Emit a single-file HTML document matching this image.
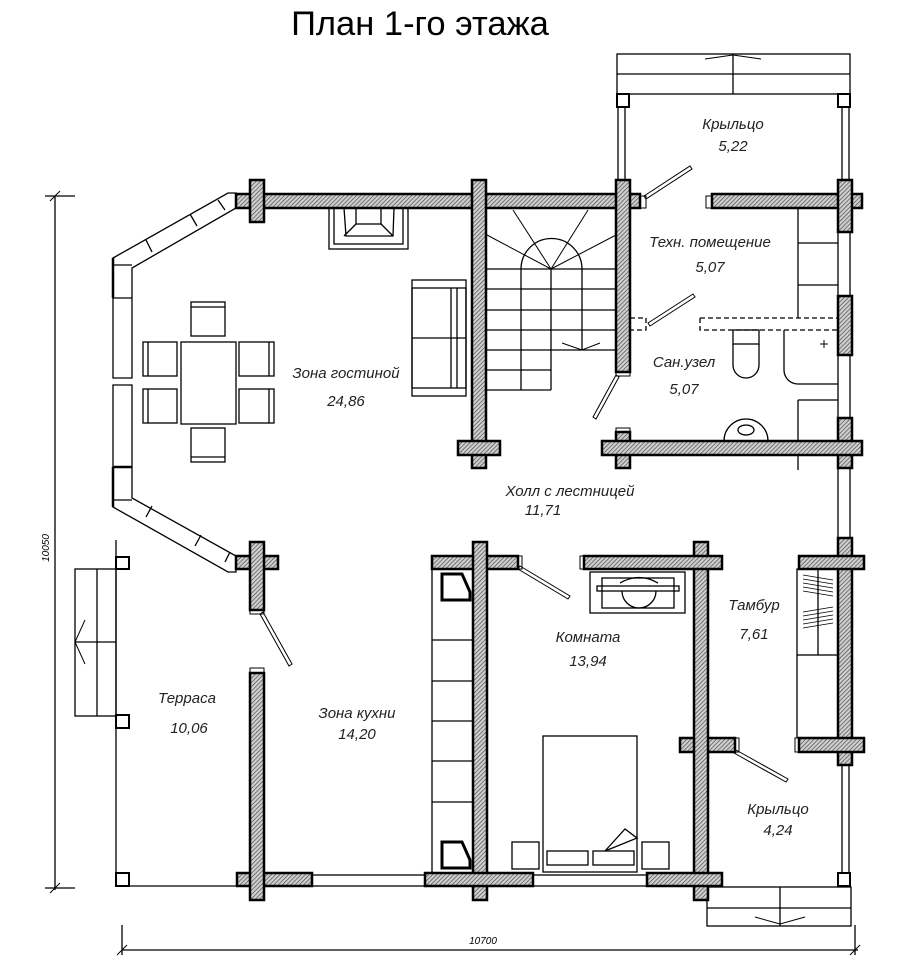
<!DOCTYPE html>
<html><head><meta charset="utf-8"><style>
html,body{margin:0;padding:0;background:#fff;}
svg{display:block;}
text{font-family:"Liberation Sans",sans-serif;}
.l{font-style:italic;font-size:15px;text-anchor:middle;fill:#222;}
</style></head><body>
<svg width="902" height="978" viewBox="0 0 902 978" xmlns="http://www.w3.org/2000/svg">
<defs>
<pattern id="h" width="3" height="3" patternUnits="userSpaceOnUse" patternTransform="rotate(45)">
<rect width="3" height="3" fill="#cfcfcf"/><line x1="0" y1="0" x2="0" y2="3" stroke="#444" stroke-width="1.3"/>
</pattern>
</defs>
<text x="420" y="35" font-size="34.5" text-anchor="middle" fill="#000">План 1-го этажа</text>

<g fill="none" stroke="#000" stroke-width="1.3">
<rect x="617" y="54" width="233" height="40"/>
<line x1="617" y1="74" x2="850" y2="74"/><line x1="733" y1="54" x2="733" y2="94"/>
<polyline points="705,59 733,55 761,59" stroke-width="1"/>
<rect x="617" y="94" width="12" height="13" stroke-width="2"/><rect x="838" y="94" width="12" height="13" stroke-width="2"/>
<rect x="618" y="107" width="7" height="74"/><rect x="842" y="107" width="7" height="74"/>
<rect x="707" y="887" width="144" height="39"/>
<line x1="780" y1="887" x2="780" y2="926"/><line x1="707" y1="908" x2="851" y2="908"/>
<polyline points="755,917 780,924 805,917" stroke-width="1"/>
<rect x="838" y="873" width="12" height="13" stroke-width="2"/>
<rect x="842" y="765" width="7" height="108"/>
<rect x="838" y="232" width="12" height="64"/><rect x="838" y="355" width="12" height="63"/>
<rect x="838" y="468" width="12" height="70"/>
<line x1="116" y1="540" x2="116" y2="886"/><line x1="116" y1="886" x2="250" y2="886"/>
<rect x="116" y="557" width="13" height="12" stroke-width="2"/><rect x="116" y="715" width="13" height="13" stroke-width="2"/><rect x="116" y="873" width="13" height="13" stroke-width="2"/>
<rect x="75" y="569" width="41" height="147"/><line x1="97" y1="569" x2="97" y2="716"/><line x1="75" y1="642" x2="116" y2="642"/>
<polyline points="85,620 75,642 85,664" stroke-width="1"/>
<polygon points="113,258 228,193 236,193 236,208 132,268 132,378 113,378" />
<polygon points="113,385 132,385 132,498 236,556 236,572 228,572 113,507"/>
<line x1="113" y1="265" x2="132" y2="265"/><line x1="113" y1="500" x2="132" y2="500"/>
<line x1="113" y1="298" x2="132" y2="298"/><line x1="113" y1="467" x2="132" y2="467" stroke-width="2.5"/>
<line x1="113" y1="258" x2="113" y2="298" stroke-width="2.5"/>
<line x1="113" y1="467" x2="113" y2="507" stroke-width="2.5"/>
<line x1="146" y1="240" x2="152" y2="252"/><line x1="190" y1="214" x2="197" y2="226"/><line x1="218" y1="200" x2="225" y2="210"/>
<line x1="146" y1="517" x2="152" y2="506"/><line x1="195" y1="546" x2="201" y2="535"/><line x1="225" y1="562" x2="230" y2="552"/>
<rect x="312" y="875" width="113" height="11"/><rect x="533" y="875" width="114" height="11"/>
<line x1="55" y1="196" x2="55" y2="890"/><line x1="45" y1="196" x2="75" y2="196"/><line x1="45" y1="888" x2="75" y2="888"/>
<line x1="122" y1="925" x2="122" y2="955"/><line x1="855" y1="925" x2="855" y2="955"/><line x1="122" y1="950" x2="858" y2="950"/>
<line x1="50" y1="201" x2="60" y2="191" stroke-width="1"/><line x1="50" y1="893" x2="60" y2="883" stroke-width="1"/>
<line x1="117" y1="955" x2="127" y2="945" stroke-width="1"/><line x1="850" y1="955" x2="860" y2="945" stroke-width="1"/>
<rect x="329" y="208" width="79" height="41"/><rect x="334" y="208" width="69" height="36"/>
<polygon points="344,208 394,208 393,236 346,236"/><rect x="356" y="208" width="25" height="16"/>
<line x1="344" y1="236" x2="356" y2="224"/><line x1="393" y1="236" x2="381" y2="224"/>
<rect x="412" y="280" width="54" height="116"/><rect x="412" y="288" width="54" height="100"/>
<line x1="412" y1="338" x2="466" y2="338"/><line x1="451" y1="288" x2="451" y2="388"/><line x1="457" y1="288" x2="457" y2="388"/>
<rect x="181" y="342" width="55" height="82"/>
<rect x="191" y="302" width="34" height="34"/><line x1="191" y1="307" x2="225" y2="307"/>
<rect x="191" y="428" width="34" height="34"/><line x1="191" y1="457" x2="225" y2="457"/>
<rect x="143" y="342" width="34" height="34"/><line x1="148" y1="342" x2="148" y2="376"/>
<rect x="143" y="389" width="34" height="34"/><line x1="148" y1="389" x2="148" y2="423"/>
<rect x="239" y="342" width="35" height="34"/><line x1="269" y1="342" x2="269" y2="376"/>
<rect x="239" y="389" width="35" height="34"/><line x1="269" y1="389" x2="269" y2="423"/>
<line x1="487" y1="269" x2="616" y2="269"/><line x1="487" y1="289" x2="616" y2="289"/>
<line x1="487" y1="310" x2="616" y2="310"/><line x1="487" y1="330" x2="616" y2="330"/>
<line x1="487" y1="350" x2="616" y2="350"/><line x1="487" y1="370" x2="551" y2="370"/><line x1="487" y1="390" x2="551" y2="390"/>
<line x1="521" y1="269" x2="521" y2="390"/><line x1="551" y1="269" x2="551" y2="390"/><line x1="582" y1="269" x2="582" y2="350"/>
<path d="M521,269 A30,30 0 0 1 582,269"/>
<g stroke-width="1"><line x1="551" y1="269" x2="513" y2="210"/><line x1="551" y1="269" x2="588" y2="210"/><line x1="551" y1="269" x2="487" y2="235"/><line x1="551" y1="269" x2="616" y2="235"/>
<polyline points="562,343 582,350 600,343"/><line x1="478" y1="290" x2="478" y2="305"/></g>
<line x1="798" y1="208" x2="798" y2="318"/><line x1="798" y1="243" x2="838" y2="243"/><line x1="798" y1="285" x2="838" y2="285"/>
<path d="M630,318 H646 V330 H630 M700,318 V330 H838 M700,318 H838" stroke-dasharray="5,3"/>
<rect x="733" y="330" width="26" height="14"/><path d="M733,344 V365 A13,13 0 0 0 759,365 V344"/>
<path d="M784,330 V370 A14,14 0 0 0 798,384 H838"/><path d="M820,344 h8 M824,340 v8" stroke-width="1"/>
<line x1="798" y1="400" x2="838" y2="400"/><line x1="798" y1="400" x2="798" y2="470"/>
<path d="M724,441 A22,22 0 0 1 768,441"/><ellipse cx="746" cy="430" rx="8" ry="5"/>
<rect x="797" y="569" width="41" height="86"/><line x1="818" y1="569" x2="818" y2="655"/>
<g stroke-width="0.8"><line x1="803" y1="575" x2="833" y2="580"/><line x1="803" y1="579" x2="833" y2="584"/><line x1="803" y1="583" x2="833" y2="588"/><line x1="803" y1="587" x2="833" y2="592"/><line x1="803" y1="591" x2="833" y2="596"/><line x1="803" y1="612" x2="833" y2="607"/><line x1="803" y1="616" x2="833" y2="611"/><line x1="803" y1="620" x2="833" y2="615"/><line x1="803" y1="624" x2="833" y2="619"/><line x1="803" y1="628" x2="833" y2="623"/></g>
<line x1="797" y1="655" x2="797" y2="738"/>
<rect x="432" y="569" width="41" height="304"/>
<line x1="432" y1="640" x2="473" y2="640"/><line x1="432" y1="681" x2="473" y2="681"/><line x1="432" y1="721" x2="473" y2="721"/><line x1="432" y1="761" x2="473" y2="761"/><line x1="432" y1="802" x2="473" y2="802"/>
<path d="M442,574 H462 L470,592 V600 H442 Z" stroke-width="3"/><path d="M442,842 H462 L470,860 V868 H442 Z" stroke-width="3"/>
<rect x="590" y="572" width="95" height="41"/><rect x="602" y="578" width="72" height="30"/>
<rect x="597" y="586" width="82" height="5"/><path d="M622,591 A17,17 0 0 0 656,591"/><path d="M620,583 Q639,572 658,583"/>
<rect x="543" y="736" width="94" height="136"/>
<rect x="547" y="851" width="41" height="14"/><rect x="593" y="851" width="41" height="14"/>
<polyline points="605,851 625,829 637,838 605,851"/>
<rect x="512" y="842" width="27" height="27"/><rect x="642" y="842" width="27" height="27"/>
<g stroke-width="1"><path d="M644,196 L690,166 L692,169 L646,199Z"/><path d="M648,323 L693,294 L695,297 L650,326Z"/>
<path d="M616,375 L593,417 L596,419 L619,377Z"/><path d="M520,566 L570,596 L568,599 L518,569Z"/>
<path d="M736,750 L788,779 L786,782 L734,753Z"/><path d="M263,612 L292,664 L289,666 L260,614Z"/>
<rect x="250" y="610" width="14" height="4"/><rect x="250" y="668" width="14" height="5"/>
<rect x="616" y="372" width="14" height="4"/><rect x="616" y="428" width="14" height="4"/>
<rect x="640" y="196" width="6" height="12"/><rect x="706" y="196" width="6" height="12"/>
<rect x="518" y="556" width="4" height="13"/><rect x="580" y="556" width="4" height="13"/>
<rect x="735" y="738" width="4" height="14"/><rect x="795" y="738" width="4" height="14"/></g>
</g>

<g fill="url(#h)" stroke="#000" stroke-width="2.5">
<rect x="236" y="194" width="404" height="14"/>
<rect x="712" y="194" width="150" height="14"/>
<rect x="250" y="180" width="14" height="42"/>
<rect x="472" y="180" width="14" height="288"/>
<rect x="616" y="180" width="14" height="192"/>
<rect x="616" y="432" width="14" height="36"/>
<rect x="838" y="180" width="14" height="52"/>
<rect x="838" y="296" width="14" height="59"/>
<rect x="838" y="418" width="14" height="50"/>
<rect x="458" y="441" width="42" height="14"/>
<rect x="602" y="441" width="260" height="14"/>
<rect x="838" y="538" width="14" height="227"/>
<rect x="799" y="738" width="65" height="14"/>
<rect x="680" y="738" width="55" height="14"/>
<rect x="694" y="542" width="14" height="358"/>
<rect x="432" y="556" width="86" height="13"/>
<rect x="584" y="556" width="138" height="13"/>
<rect x="799" y="556" width="65" height="13"/>
<rect x="473" y="542" width="14" height="358"/>
<rect x="237" y="873" width="75" height="13"/>
<rect x="425" y="873" width="108" height="13"/>
<rect x="647" y="873" width="75" height="13"/>
<rect x="236" y="556" width="42" height="13"/>
<rect x="250" y="542" width="14" height="68"/>
<rect x="250" y="673" width="14" height="227"/>
</g>

<text class="l" x="733" y="129">Крыльцо</text><text class="l" x="733" y="151">5,22</text>
<text class="l" x="710" y="247">Техн. помещение</text><text class="l" x="710" y="272">5,07</text>
<text class="l" x="684" y="367">Сан.узел</text><text class="l" x="684" y="394">5,07</text>
<text class="l" x="346" y="378">Зона гостиной</text><text class="l" x="346" y="406">24,86</text>
<text class="l" x="570" y="496">Холл с лестницей</text><text class="l" x="543" y="515">11,71</text>
<text class="l" x="588" y="642">Комната</text><text class="l" x="588" y="666">13,94</text>
<text class="l" x="754" y="610">Тамбур</text><text class="l" x="754" y="639">7,61</text>
<text class="l" x="187" y="703">Терраса</text><text class="l" x="189" y="733">10,06</text>
<text class="l" x="357" y="718">Зона кухни</text><text class="l" x="357" y="739">14,20</text>
<text class="l" x="778" y="814">Крыльцо</text><text class="l" x="778" y="835">4,24</text>
<text x="49" y="548" font-size="10" font-style="italic" text-anchor="middle" transform="rotate(-90 49 548)">10050</text>
<text x="483" y="944" font-size="10" font-style="italic" text-anchor="middle">10700</text>
</svg>
</body></html>
